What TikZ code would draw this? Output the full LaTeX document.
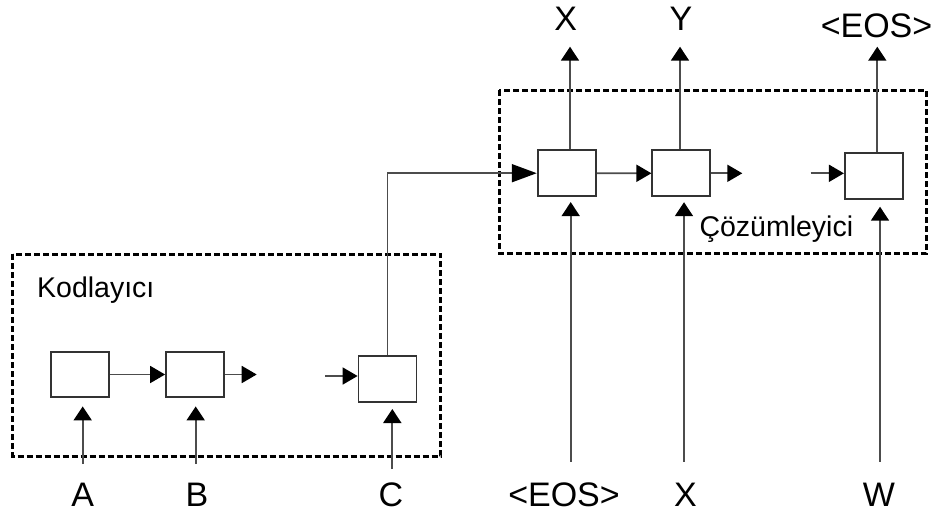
\documentclass[tikz,border=0pt]{standalone}
\usepackage{fontspec}
\setmainfont{Liberation Sans}
\usetikzlibrary{arrows.meta}
\begin{document}
\begin{tikzpicture}[x=1pt,y=-1pt,
 cell/.style={draw=black!80,line width=1.8pt,minimum width=58pt,minimum height=46pt,inner sep=0pt,fill=white},
 conn/.style={draw=black!70,line width=1.8pt},
 tip/.style={conn,-{Triangle[length=15pt,width=17pt,color=black]}},
 uptip/.style={conn,-{Triangle[length=14pt,width=18pt,color=black]}},
 bigtip/.style={conn,-{Triangle[length=25pt,width=18pt,color=black]}},
 grp/.style={draw=black,line width=3pt,dash pattern=on 6pt off 3pt},
 lbl/.style={font=\fontsize{34}{40}\selectfont,inner sep=0pt,anchor=base},
 ttl/.style={font=\fontsize{28.5}{34}\selectfont,inner sep=0pt,anchor=base west}]
\useasboundingbox (0,0) rectangle (933,514);
\fill[white] (0,0) rectangle (933,514);

% group frames
\draw[grp] (12.7,254) rectangle (440.7,456);
\draw[grp] (499.3,90) rectangle (926,253.5);

% cells
\node[cell,minimum height=45pt] (e1) at (80,374.5) {};
\node[cell,minimum height=45pt] (e2) at (195,374.5) {};
\node[cell] (e3) at (387.5,378.8) {};
\node[cell,minimum width=58.5pt] (d1) at (566.9,173.2) {};
\node[cell] (d2) at (681.3,173.3) {};
\node[cell] (d3) at (873.8,176.3) {};

% titles
\node[ttl] (kod) at (37,297) {Kodlayıcı};
\node[ttl] (coz) at (699.3,236.7) {Çözümleyici};

% labels
\node[lbl] (iA) at (82.7,506.7) {A};
\node[lbl] (iB) at (197,506.7) {B};
\node[lbl] (iC) at (391,506.7) {C};
\node[lbl] (iE) at (564,506.7) {<EOS>};
\node[lbl] (iX) at (685.5,506.7) {X};
\node[lbl] (iW) at (879,506.7) {W};
\node[lbl] (oX) at (565.7,30.7) {X};
\node[lbl] (oY) at (681,30.7) {Y};
\node[lbl] (oE) at (876.5,37.7) {<EOS>};

% free ends
\coordinate (aA) at (82.7,464);
\coordinate (aB) at (195.7,464);
\coordinate (aC) at (392.3,469);
\coordinate (aE) at (570.7,461.7);
\coordinate (aX) at (684,461.7);
\coordinate (aW) at (880,461.7);
\coordinate (tX) at (570,46.7);
\coordinate (tY) at (680,46.7);
\coordinate (tE) at (877.3,46.7);
\coordinate (e2o) at (256.7,374.5);
\coordinate (e3i) at (325,376);
\coordinate (d2o) at (742.3,173.3);
\coordinate (d3i) at (810.7,173.3);

% inputs
\draw[uptip,shorten >=8.5pt] (aA) -- (aA |- e1.south);
\draw[uptip,shorten >=8.5pt] (aB) -- (aB |- e2.south);
\draw[uptip,shorten >=6.3pt] (aC) -- (aC |- e3.south);
\draw[uptip,shorten >=5pt] (aE) -- (aE |- d1.south);
\draw[uptip,shorten >=5pt] (aX) -- (aX |- d2.south);
\draw[uptip,shorten >=6.5pt] (aW) -- (aW |- d3.south);

% outputs
\draw[uptip] (tX |- d1.north) -- (tX);
\draw[uptip] (tY |- d2.north) -- (tY);
\draw[uptip] (tE |- d3.north) -- (tE);

% recurrent links
\draw[tip] (e1.east) -- (e2.west);
\draw[tip] (e2.east) -- (e2o);
\draw[tip] (e3i) -- (e3.west |- e3i);
\draw[bigtip] (e3.north) |- (d1.west);
\draw[tip] (d1.east) -- (d2.west);
\draw[tip] (d2.east) -- (d2o);
\draw[tip] (d3i) -- (d3.west |- d3i);
\end{tikzpicture}
\end{document}
